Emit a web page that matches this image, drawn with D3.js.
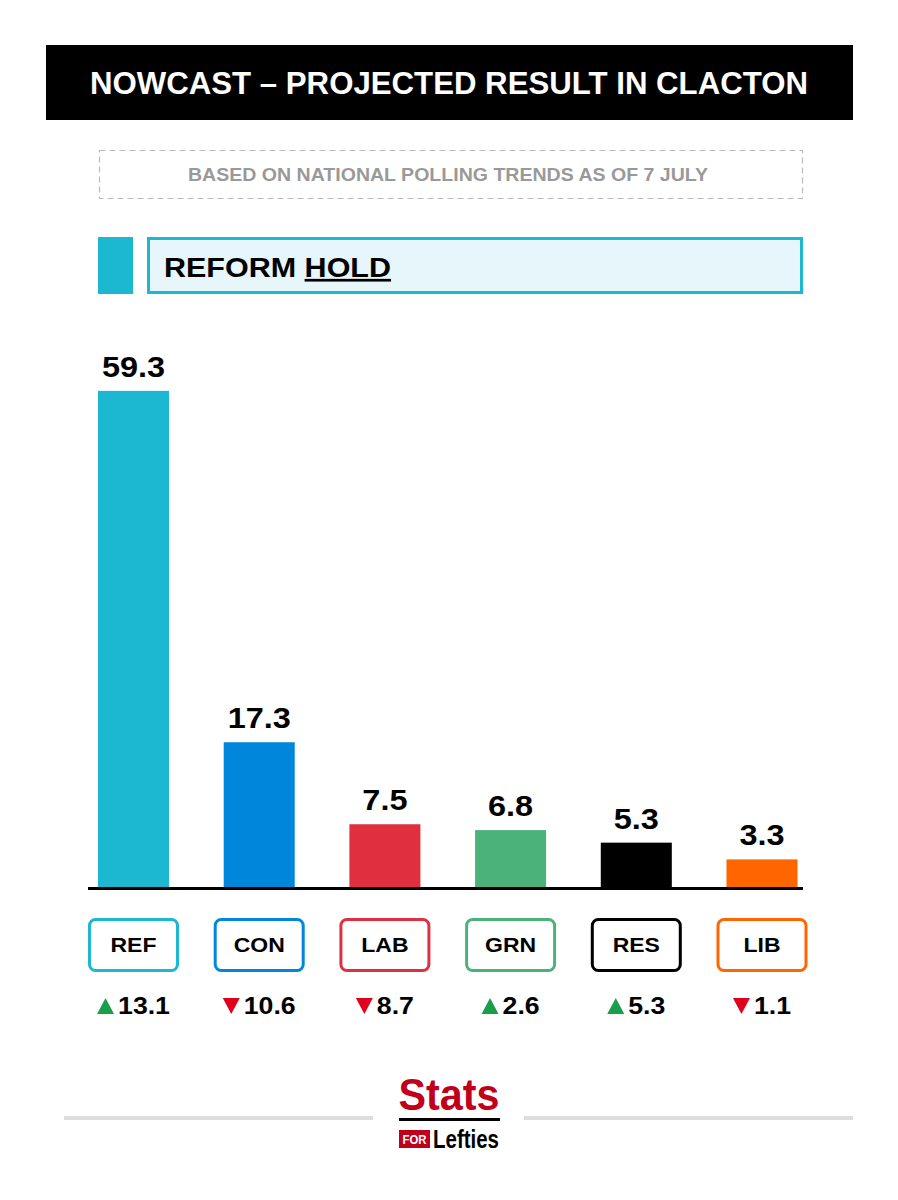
<!DOCTYPE html>
<html>
<head>
<meta charset="utf-8">
<script src="https://cdn.jsdelivr.net/npm/d3@7"></script>
<style>
  body { margin: 0; background: #fff; }
  svg { display: block; font-family: "Liberation Sans", Arial, sans-serif; }
</style>
</head>
<body>
<div class="chart"></div>
<script>
// data
const parties = ["REF", "CON", "LAB", "GRN", "RES", "LIB"];
const shares = [59.3, 17.3, 7.5, 6.8, 5.3, 3.3];
const changes = [13.1, -10.6, -8.7, 2.6, 5.3, -1.1];
const partyColors = ["#1cb8d1", "#0087dc", "#e0303f", "#4bb27a", "#000000", "#ff6600"];

const titleText = "NOWCAST \u2013 PROJECTED RESULT IN CLACTON";
const subtitleText = "BASED ON NATIONAL POLLING TRENDS AS OF 7 JULY";

const width = 898, height = 1200;

const svg = d3.select("div.chart")
  .append("svg")
  .attr("width", width)
  .attr("height", height);

// title bar
svg.append("rect")
  .attr("x", 46).attr("y", 45).attr("width", 807).attr("height", 75)
  .attr("fill", "#000");
svg.append("text")
  .attr("x", 449).attr("y", 94)
  .attr("text-anchor", "middle")
  .style("font-size", "31px").style("font-weight", "bold")
  .attr("fill", "#fff")
  .attr("textLength", 718).attr("lengthAdjust", "spacingAndGlyphs")
  .text(titleText);

// subtitle dashed box
svg.append("rect")
  .attr("x", 99.5).attr("y", 150.5).attr("width", 703).attr("height", 48)
  .attr("fill", "none").attr("stroke", "#bbb").attr("stroke-width", 1.2)
  .attr("stroke-dasharray", "6,4");
svg.append("text")
  .attr("x", 448).attr("y", 181)
  .attr("text-anchor", "middle")
  .style("font-size", "17.5px").style("font-weight", "bold")
  .attr("fill", "#999")
  .attr("textLength", 520).attr("lengthAdjust", "spacingAndGlyphs")
  .text(subtitleText);

// result banner
svg.append("rect")
  .attr("x", 98).attr("y", 237).attr("width", 35).attr("height", 57)
  .attr("fill", partyColors[0]);
svg.append("rect")
  .attr("x", 148.5).attr("y", 238.5).attr("width", 653).attr("height", 54)
  .attr("fill", "#e6f6fa").attr("stroke", partyColors[0]).attr("stroke-width", 3);
const banner = svg.append("text")
  .attr("x", 164).attr("y", 277)
  .style("font-size", "27px").style("font-weight", "bold")
  .attr("fill", "#000")
  .attr("transform", "translate(164,0) scale(1.13,1) translate(-164,0)");
banner.append("tspan").text("REFORM ");
banner.append("tspan").style("text-decoration", "underline").text("HOLD");

// bar chart
const baseY = 887;

const x = d3.scaleBand()
  .domain(parties)
  .range([98, 797.5])
  .paddingInner(0.435)
  .paddingOuter(0);

const y = d3.scaleLinear()
  .domain([0, 60])
  .range([baseY, 385]);

const data = parties.map(function (p, i) {
  return { party: p, share: shares[i], change: changes[i], color: partyColors[i] };
});

function cx(d) { return x(d.party) + x.bandwidth() / 2; }

svg.append("g")
  .selectAll("rect")
  .data(data)
  .enter()
  .append("rect")
  .attr("x", function (d) { return x(d.party); })
  .attr("y", function (d) { return y(d.share); })
  .attr("width", x.bandwidth())
  .attr("height", function (d) { return baseY - y(d.share); })
  .attr("fill", function (d) { return d.color; });

// value labels (slightly widened to match the original typeface)
svg.append("g")
  .selectAll("text")
  .data(data)
  .enter()
  .append("text")
  .attr("transform", function (d) {
    return "translate(" + cx(d) + "," + (y(d.share) - 14) + ") scale(1.1,1)";
  })
  .attr("text-anchor", "middle")
  .style("font-size", "29.5px").style("font-weight", "bold")
  .attr("fill", "#000")
  .text(function (d) { return d.share.toFixed(1); });

// baseline
svg.append("line")
  .attr("x1", 88).attr("x2", 803)
  .attr("y1", baseY + 1.5).attr("y2", baseY + 1.5)
  .attr("stroke", "#000").attr("stroke-width", 3);

// party label boxes
const labels = svg.append("g")
  .selectAll("g")
  .data(data)
  .enter()
  .append("g")
  .attr("transform", function (d) { return "translate(" + cx(d) + ",0)"; });

labels.append("rect")
  .attr("x", -44).attr("y", 919.5).attr("width", 88).attr("height", 51)
  .attr("rx", 6).attr("ry", 6)
  .attr("fill", "#fff")
  .attr("stroke", function (d) { return d.color; })
  .attr("stroke-width", 3);

labels.append("text")
  .attr("transform", "translate(0,952) scale(1.15,1)")
  .attr("text-anchor", "middle")
  .style("font-size", "20px").style("font-weight", "bold")
  .attr("fill", "#000")
  .text(function (d) { return d.party; });

// change vs last election: triangle + number
const changeG = labels.append("g");

changeG.append("text")
  .attr("class", "chg")
  .attr("transform", "translate(-17,1014) scale(1.16,1)")
  .style("font-size", "23px").style("font-weight", "bold")
  .attr("fill", "#000")
  .text(function (d) { return Math.abs(d.change).toFixed(1); });

changeG.each(function () {
  const g = d3.select(this);
  const w = g.select("text.chg").node().getComputedTextLength() * 1.16;
  const total = 17 + 4 + w;
  const left = -total / 2;
  g.select("text.chg").attr("transform", "translate(" + (left + 21) + ",1014) scale(1.16,1)");
  g.insert("path", "text")
    .attr("d", function (d) {
      return d.change >= 0
        ? "M" + left + ",1014 L" + (left + 17) + ",1014 L" + (left + 8.5) + ",998 Z"
        : "M" + left + ",998 L" + (left + 17) + ",998 L" + (left + 8.5) + ",1014 Z";
    })
    .attr("fill", function (d) { return d.change >= 0 ? "#1a9e4a" : "#e0001b"; });
});

// footer
svg.append("rect").attr("x", 64).attr("y", 1116).attr("width", 309).attr("height", 4).attr("fill", "#ddd");
svg.append("rect").attr("x", 524).attr("y", 1116).attr("width", 329).attr("height", 4).attr("fill", "#ddd");

svg.append("text")
  .attr("x", 449).attr("y", 1110)
  .attr("text-anchor", "middle")
  .style("font-size", "44px").style("font-weight", "bold")
  .attr("fill", "#c0001a")
  .attr("textLength", 101).attr("lengthAdjust", "spacingAndGlyphs")
  .text("Stats");
svg.append("rect").attr("x", 399).attr("y", 1118).attr("width", 101).attr("height", 3).attr("fill", "#000");
svg.append("rect").attr("x", 399).attr("y", 1130).attr("width", 31).attr("height", 18).attr("fill", "#c0001a");
svg.append("text")
  .attr("x", 414.5).attr("y", 1144)
  .attr("text-anchor", "middle")
  .style("font-size", "13px").style("font-weight", "bold")
  .attr("fill", "#fff")
  .attr("textLength", 24).attr("lengthAdjust", "spacingAndGlyphs")
  .text("FOR");
svg.append("text")
  .attr("x", 433).attr("y", 1148)
  .style("font-size", "26px").style("font-weight", "bold")
  .attr("fill", "#000")
  .attr("textLength", 66).attr("lengthAdjust", "spacingAndGlyphs")
  .text("Lefties");
</script>
</body>
</html>
